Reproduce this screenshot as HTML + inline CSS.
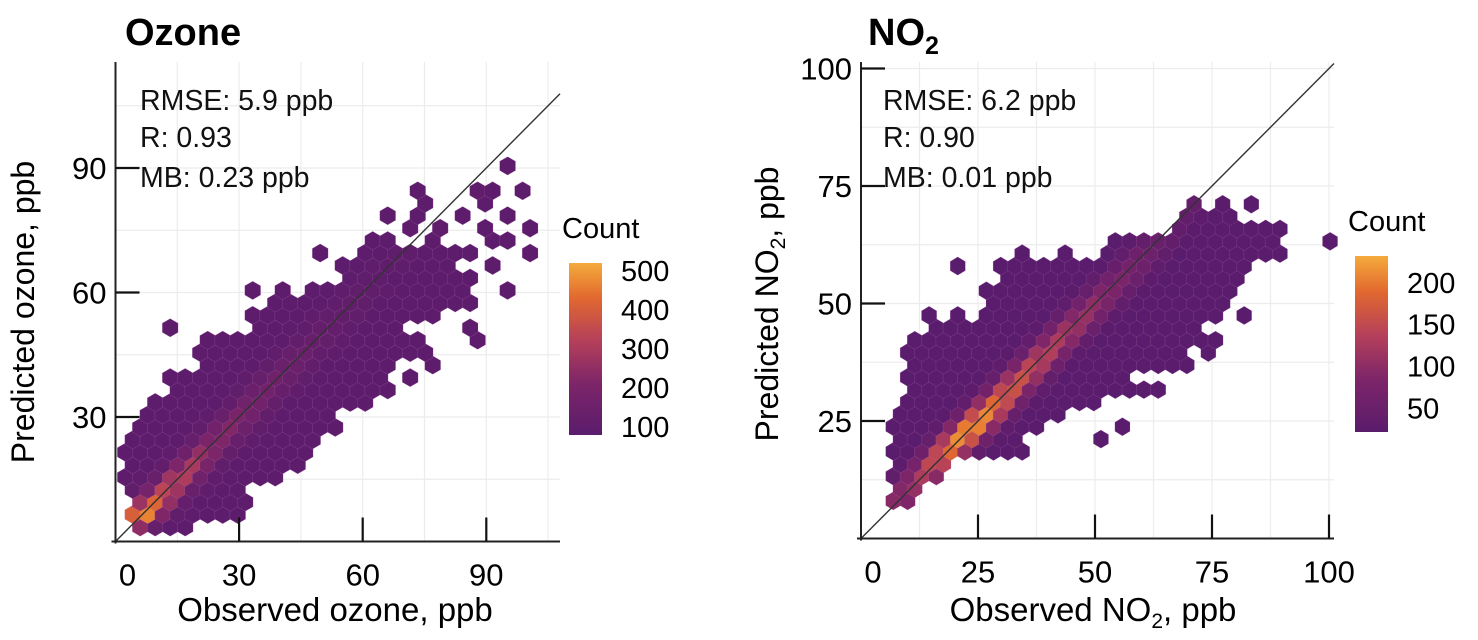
<!DOCTYPE html>
<html><head><meta charset="utf-8">
<style>
html,body{margin:0;padding:0;background:#fff;}
svg{display:block;font-family:"Liberation Sans","DejaVu Sans",sans-serif;}
</style></head>
<body>
<svg id="fig" width="1478" height="640" viewBox="0 0 1478 640">
<defs>
<linearGradient id="cbar" x1="0" y1="1" x2="0" y2="0">
<stop offset="0" stop-color="#5a1c6c"/>
<stop offset="0.3" stop-color="#7d2569"/>
<stop offset="0.55" stop-color="#b5405a"/>
<stop offset="0.8" stop-color="#e2692f"/>
<stop offset="1" stop-color="#f4ab3c"/>
</linearGradient>
</defs>
<g id="left"></g>
<g id="right"></g>
<text x="125" y="45" font-size="38" font-weight="bold">Ozone</text>
<text x="868" y="45" font-size="38" font-weight="bold">NO<tspan font-size="25" dy="9">2</tspan></text>
<g font-size="28.5" fill="#111">
<text x="140" y="110">RMSE: 5.9 ppb</text>
<text x="140" y="147">R: 0.93</text>
<text x="140" y="187">MB: 0.23 ppb</text>
<text x="883" y="110">RMSE: 6.2 ppb</text>
<text x="883" y="147">R: 0.90</text>
<text x="883" y="187">MB: 0.01 ppb</text>
</g>
<text transform="translate(34,312) rotate(-90)" text-anchor="middle" font-size="32">Predicted ozone, ppb</text>
<text x="335" y="621" text-anchor="middle" font-size="33">Observed ozone, ppb</text>
<text transform="translate(778,304) rotate(-90)" text-anchor="middle" font-size="32">Predicted NO<tspan font-size="21" dy="7">2</tspan><tspan dy="-7">, ppb</tspan></text>
<text x="1093" y="621" text-anchor="middle" font-size="33">Observed NO<tspan font-size="21" dy="7">2</tspan><tspan dy="-7">, ppb</tspan></text>
</svg>
<script>
const NS="http://www.w3.org/2000/svg";
// ---- Ozone data ----
const ozTicks=[0,30,60,90];
const ozCbarLabels=[100,200,300,400,500];
const ozRowSegments=[
[[6,16]],[[4,30]],[[5.5,31]],[[4,28]],[[4,38]],[[4,46]],[[4,47]],[[4,49]],[[6,55]],[[9,53]],
[[11,59]],[[14,67]],[[14,63],[72,72]],[[22,65],[77,77]],[[22,66],[69,75]],[[24,75],[89,89]],
[[15,15],[35,69],[85,85]],[[35,78]],[[40,87]],[[35,35],[42,42],[49,84],[97,97]],[[56,87]],
[[54,54],[58,82],[90,90]],[[50,50],[60,87],[102,102]],[[62,66],[77,77],[90,90],[97,97]],
[[71,71],[78,78],[88,88],[99,99]],[[66,66],[73,73],[84,84],[94,94]],[[75,75],[88,88]],
[[73,73],[87,90],[100,100]],[],[[94,94]]];
const ozRowPeak=[300,500,420,350,330,300,260,230,220,200,180,170,160,150,140,130,120,115,110,105,100,100,100,100,100,100,100,100,100,100];
// ---- NO2 data ----
const noTicks=[0,25,50,75,100];
const noCbarLabels=[50,100,150,200];
const noRowSegments=[
[[7,10]],[[8,11]],[[7,16]],[[7,18]],[[7,33]],[[7,33],[50,50]],[[7,37],[55,55]],[[8,42]],[[10,51]],
[[11,63]],[[11,57]],[[11,69]],[[11,69],[74,74]],[[13,77]],[[16,72]],[[16,16],[22,22],[27,75],[83,83]],
[[27,77]],[[28,80]],[[31,79]],[[22,22],[31,83]],[[34,34],[45,45],[52,89]],[[53,87],[99,99]],
[[67,89]],[[70,78]],[[70,70],[76,76],[82,82]]];
const noRowPeak=[100,110,130,160,190,215,225,210,190,170,160,150,140,130,120,110,100,90,80,70,60,50,40,40,40];

const stops=[[0,[90,28,108]],[0.3,[125,37,105]],[0.55,[181,64,90]],[0.8,[226,105,47]],[1,[244,171,60]]];
function colorAt(t){t=Math.max(0,Math.min(1,t));for(let i=1;i<stops.length;i++){if(t<=stops[i][0]){const a=stops[i-1],b=stops[i];const f=(t-a[0])/(b[0]-a[0]);const c=a[1].map((v,j)=>Math.round(v+(b[1][j]-v)*f));return `rgb(${c[0]},${c[1]},${c[2]})`;}}return 'rgb(244,171,60)';}
function mk(tag,attrs,parent){const e=document.createElementNS(NS,tag);for(const k in attrs)e.setAttribute(k,attrs[k]);parent.appendChild(e);return e;}

function panel(g,cfg){
  const sx=v=>cfg.x0+v*cfg.kx, sy=v=>cfg.y0-v*cfg.ky;
  for(let v=cfg.grid;v<=cfg.max;v+=cfg.grid){
    const l1=mk('line',{x1:sx(v),x2:sx(v),y1:cfg.top,y2:cfg.y0,stroke:'#ececec','stroke-width':1.2},g);
    
    
    const l2=mk('line',{x1:cfg.x0,x2:cfg.right,y1:sy(v),y2:sy(v),stroke:'#ececec','stroke-width':1.2},g);
    
    
  }
  const dxp=cfg.dx*cfg.kx, dyp=cfg.dy*cfg.ky, r=dyp*2/3+0.9, hw=dxp/2+0.4;
  cfg.rows.forEach((segs,k)=>{
    const y=cfg.yb+k*cfg.dy;
    const base=cfg.xb+(k%2?cfg.oddShift:0);
    segs.forEach(s=>{
      const n0=Math.round((s[0]-base)/cfg.dx), n1=Math.round((s[1]-base)/cfg.dx);
      for(let n=n0;n<=n1;n++){
        const x=base+n*cfg.dx;
        const cnt=cfg.base+(cfg.peaks[k]-cfg.base)*Math.exp(-Math.pow((x-y)/cfg.w,2));
        const px=sx(x), py=sy(y);
        const pts=[[px,py-r],[px+hw,py-r/2],[px+hw,py+r/2],[px,py+r],[px-hw,py+r/2],[px-hw,py-r/2]].map(p=>p[0].toFixed(1)+','+p[1].toFixed(1)).join(' ');
        const h=mk('polygon',{points:pts,fill:colorAt((cnt-cfg.cmin)/(cfg.cmax-cfg.cmin)),stroke:'rgba(190,120,190,0.3)','stroke-width':0.6},g);
        
        
      }
    });
  });
  const d=mk('line',{x1:sx(0),y1:sy(0),x2:cfg.right,y2:sy((cfg.right-cfg.x0)/cfg.kx),stroke:'#333','stroke-width':1.4},g);
  
  
  const ya=mk('line',{x1:cfg.x0,x2:cfg.x0,y1:cfg.top,y2:cfg.y0+2,stroke:'#222','stroke-width':2},g);
  
  
  const xa=mk('line',{x1:cfg.x0-4,x2:cfg.right,y1:cfg.y0,y2:cfg.y0,stroke:'#222','stroke-width':2},g);
  
  
  cfg.ticks.forEach(v=>{
    if(v>0){
      const t=mk('line',{x1:sx(v),x2:sx(v),y1:cfg.y0,y2:cfg.y0-24,stroke:'#111','stroke-width':2.2},g);
      
      
      const t2=mk('line',{x1:cfg.x0,x2:cfg.x0+24,y1:sy(v),y2:sy(v),stroke:'#111','stroke-width':2.2},g);
      
      
      const yl=mk('text',{x:cfg.x0-9,y:sy(v)+11,'text-anchor':'end','font-size':31},g);yl.textContent=v;
      
      
    }
    const xl=mk('text',{x:sx(v)+(v===0?12:0),y:cfg.y0+44,'text-anchor':'middle','font-size':31},g);xl.textContent=v;
    
    
  });
  const cb=mk('rect',{x:cfg.cbX,y:cfg.cbTop,width:33,height:cfg.cbBot-cfg.cbTop,fill:'url(#cbar)'},g);
  
  
  const ct=mk('text',{x:cfg.cbX-7,y:cfg.cbTop-25,'font-size':29},g);ct.textContent='Count';
  
  
  const cy=v=>cfg.cbBot-(v-cfg.cmin)/(cfg.cmax-cfg.cmin)*(cfg.cbBot-cfg.cbTop);
  cfg.cbLabels.forEach(v=>{
    const l=mk('text',{x:cfg.cbX+52,y:cy(v)+10,'font-size':29},g);l.textContent=v;
    
    
  });
}
panel(document.getElementById('left'),{x0:115.5,y0:541.5,kx:4.12,ky:4.15,top:62,right:560,max:110,grid:15,
  dx:3.64,dy:3.0,yb:3.5,xb:6.0,oddShift:-1.82,rows:ozRowSegments,peaks:ozRowPeak,base:95,w:4.5,cmin:80,cmax:520,
  ticks:ozTicks,cbX:569,cbTop:263,cbBot:435,cbLabels:ozCbarLabels});
panel(document.getElementById('right'),{x0:861,y0:538.5,kx:4.68,ky:4.7,top:62,right:1334,max:100,grid:12.5,
  dx:3.06,dy:2.63,yb:8,xb:6.9,oddShift:1.53,rows:noRowSegments,peaks:noRowPeak,base:20,w:4.5,cmin:22,cmax:232,
  ticks:noTicks,cbX:1355,cbTop:256,cbBot:432,cbLabels:noCbarLabels});
</script>
</body></html>
